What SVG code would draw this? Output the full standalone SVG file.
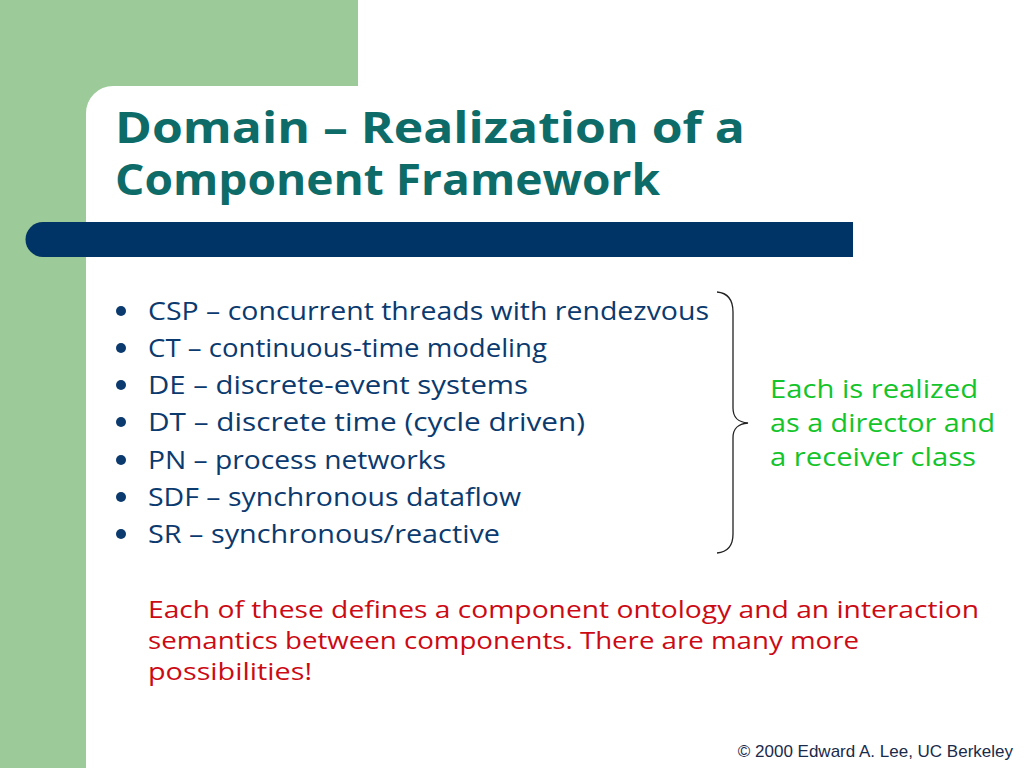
<svg xmlns="http://www.w3.org/2000/svg" width="1024" height="768" viewBox="0 0 1024 768">
<defs>
<style>
.title{font-family:"Open Sans","DejaVu Sans",sans-serif;font-weight:bold;font-size:43px;fill:#0d6b68}
.item{font-family:"Open Sans","DejaVu Sans",sans-serif;font-size:26px;fill:#0b3a6e}
.green{font-family:"Open Sans","DejaVu Sans",sans-serif;font-size:26px;fill:#13c42a}
.red{font-family:"Open Sans","DejaVu Sans",sans-serif;font-size:24px;fill:#cc0a14}
.copy{font-family:"Liberation Sans",Arial,sans-serif;font-size:17px;fill:#1a2a4a}
.dot{fill:#0b3a6e}
</style>
</defs>
<rect width="1024" height="768" fill="#ffffff"/>
<g id="background">
<rect x="0" y="0" width="358" height="86" fill="#9ccb99"/>
<rect x="0" y="0" width="86" height="768" fill="#9ccb99"/>
<path d="M86,86 L113,86 A27,27 0 0 0 86,113 Z" fill="#9ccb99"/>
<path d="M43,222 L853,222 L853,257 L43,257 A17.5,17.5 0 0 1 43,222 Z" fill="#003366"/>
</g>
<g id="title">
<text class="title" x="115" y="143" textLength="630" lengthAdjust="spacingAndGlyphs">Domain – Realization of a</text>
<text class="title" x="115" y="195" textLength="545" lengthAdjust="spacingAndGlyphs">Component Framework</text>
</g>
<g id="bullets">
<circle class="dot" cx="121" cy="311" r="5"/>
<text class="item" x="148" y="320" textLength="561" lengthAdjust="spacingAndGlyphs">CSP – concurrent threads with rendezvous</text>
<circle class="dot" cx="121" cy="348" r="5"/>
<text class="item" x="148" y="357" textLength="399" lengthAdjust="spacingAndGlyphs">CT – continuous-time modeling</text>
<circle class="dot" cx="121" cy="385" r="5"/>
<text class="item" x="148" y="394" textLength="380" lengthAdjust="spacingAndGlyphs">DE – discrete-event systems</text>
<circle class="dot" cx="121" cy="422" r="5"/>
<text class="item" x="148" y="431" textLength="437" lengthAdjust="spacingAndGlyphs">DT – discrete time (cycle driven)</text>
<circle class="dot" cx="121" cy="460" r="5"/>
<text class="item" x="148" y="469" textLength="298" lengthAdjust="spacingAndGlyphs">PN – process networks</text>
<circle class="dot" cx="121" cy="497" r="5"/>
<text class="item" x="148" y="506" textLength="373" lengthAdjust="spacingAndGlyphs">SDF – synchronous dataflow</text>
<circle class="dot" cx="121" cy="534" r="5"/>
<text class="item" x="148" y="543" textLength="352" lengthAdjust="spacingAndGlyphs">SR – synchronous/reactive</text>
</g>
<g id="brace">
<path d="M717,292 C728,293 733,300 733,312 L733,408 C733,418 738,422 748,423 C738,424 733,428 733,438 L733,534 C733,546 728,552 717,553" fill="none" stroke="#222222" stroke-width="1.3"/>
</g>
<g id="note">
<text class="green" x="770" y="398" textLength="208" lengthAdjust="spacingAndGlyphs">Each is realized</text>
<text class="green" x="770" y="432" textLength="225" lengthAdjust="spacingAndGlyphs">as a director and</text>
<text class="green" x="770" y="466" textLength="206" lengthAdjust="spacingAndGlyphs">a receiver class</text>
</g>
<g id="summary">
<text class="red" x="148" y="618" textLength="831" lengthAdjust="spacingAndGlyphs">Each of these defines a component ontology and an interaction</text>
<text class="red" x="148" y="649" textLength="711" lengthAdjust="spacingAndGlyphs">semantics between components. There are many more</text>
<text class="red" x="148" y="680" textLength="164" lengthAdjust="spacingAndGlyphs">possibilities!</text>
</g>
<g id="footer">
<text class="copy" x="1013" y="757" text-anchor="end">© 2000 Edward A. Lee, UC Berkeley</text>
</g>
</svg>
